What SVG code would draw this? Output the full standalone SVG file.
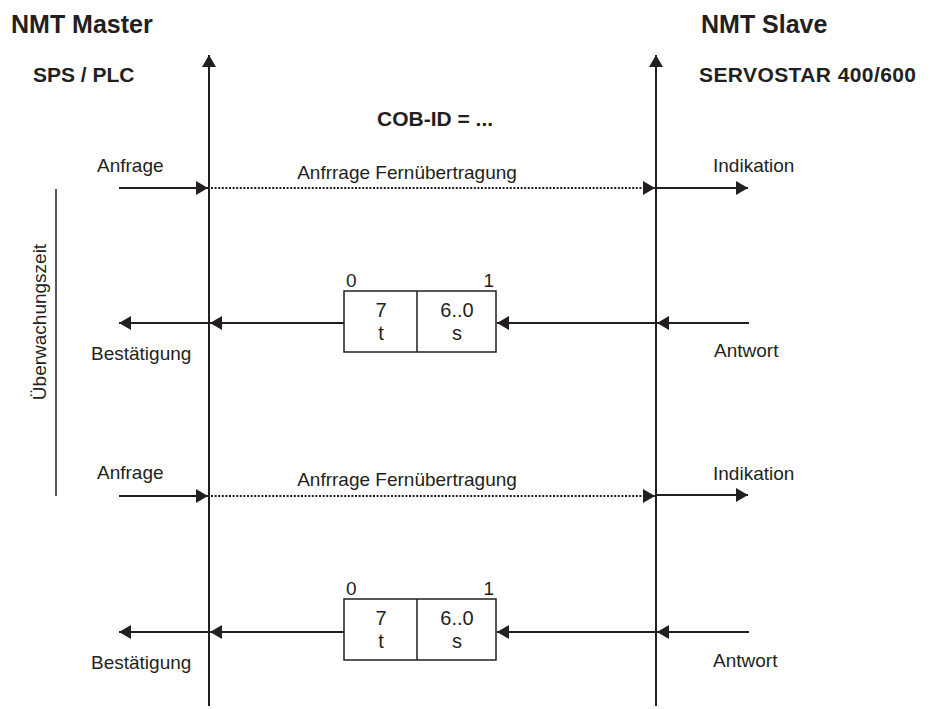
<svg xmlns="http://www.w3.org/2000/svg" width="931" height="709" viewBox="0 0 931 709">
  <style>
    text { font-family: "Liberation Sans", Arial, sans-serif; fill: #231f20; }
    .t { font-size: 19px; }
    .h1 { font-size: 25px; font-weight: bold; }
    .h2 { font-size: 21px; font-weight: bold; }
    .bx { font-size: 20px; text-anchor: middle; }
    .ln { stroke: #231f20; stroke-width: 2; fill: none; }
    .dot { stroke: #231f20; stroke-width: 2; stroke-dasharray: 2 1.6; fill: none; }
    .box { stroke: #231f20; stroke-width: 1.5; fill: #fff; }
  </style>
  <defs>
    <marker id="ah" markerUnits="userSpaceOnUse" markerWidth="14" markerHeight="14" refX="12" refY="7" orient="auto">
      <path d="M0,0 L12,7 L0,14 z" fill="#231f20"/>
    </marker>
  </defs>
  <rect width="931" height="709" fill="#fff"/>

  <g id="master-header">
    <text class="h1" x="11" y="33">NMT Master</text>
    <text class="h2" x="33" y="82">SPS / PLC</text>
  </g>
  <g id="slave-header">
    <text class="h1" x="701" y="33">NMT Slave</text>
    <text class="h2" x="699" y="82" textLength="217" lengthAdjust="spacing">SERVOSTAR 400/600</text>
  </g>
  <g id="cob-id">
    <text class="h2" x="377" y="126">COB-ID = ...</text>
  </g>

  <g id="master-lifeline">
    <line class="ln" x1="209" y1="706" x2="209" y2="55" marker-end="url(#ah)"/>
  </g>
  <g id="slave-lifeline">
    <line class="ln" x1="656" y1="706" x2="656" y2="55" marker-end="url(#ah)"/>
  </g>

  <g id="watchdog">
    <line stroke="#231f20" stroke-width="1.5" x1="56" y1="189" x2="56" y2="496"/>
    <text class="t" transform="translate(46,322) rotate(-90)" text-anchor="middle">Überwachungszeit</text>
  </g>

  <g id="frame1">
    <rect class="box" x="344" y="291" width="152" height="61"/>
    <line stroke="#231f20" stroke-width="1.5" x1="417" y1="291" x2="417" y2="352"/>
    <text class="t" x="346" y="287">0</text>
    <text class="t" x="494" y="287" text-anchor="end">1</text>
    <text class="bx" x="381" y="317">7</text>
    <text class="bx" x="381" y="340">t</text>
    <text class="bx" x="457" y="317">6..0</text>
    <text class="bx" x="457" y="340">s</text>
  </g>
  <g id="frame2">
    <rect class="box" x="344" y="599" width="152" height="61"/>
    <line stroke="#231f20" stroke-width="1.5" x1="417" y1="599" x2="417" y2="660"/>
    <text class="t" x="346" y="595">0</text>
    <text class="t" x="494" y="595" text-anchor="end">1</text>
    <text class="bx" x="381" y="625">7</text>
    <text class="bx" x="381" y="648">t</text>
    <text class="bx" x="457" y="625">6..0</text>
    <text class="bx" x="457" y="648">s</text>
  </g>

  <g id="labels">
    <text class="t" x="97" y="172">Anfrage</text>
    <text class="t" x="407" y="179" text-anchor="middle">Anfrrage Fernübertragung</text>
    <text class="t" x="713" y="172">Indikation</text>
    <text class="t" x="91" y="360">Bestätigung</text>
    <text class="t" x="714" y="357">Antwort</text>
    <text class="t" x="97" y="479">Anfrage</text>
    <text class="t" x="407" y="486" text-anchor="middle">Anfrrage Fernübertragung</text>
    <text class="t" x="713" y="480">Indikation</text>
    <text class="t" x="91" y="669">Bestätigung</text>
    <text class="t" x="713" y="667">Antwort</text>
  </g>

  <g id="connectors">
    <line class="ln" x1="119" y1="188" x2="208" y2="188" marker-end="url(#ah)"/>
    <line class="dot" x1="211" y1="188" x2="655" y2="188" marker-end="url(#ah)"/>
    <line class="ln" x1="657" y1="188" x2="748" y2="188" marker-end="url(#ah)"/>

    <line class="ln" x1="749" y1="323" x2="657" y2="323" marker-end="url(#ah)"/>
    <line class="ln" x1="655" y1="323" x2="497" y2="323" marker-end="url(#ah)"/>
    <line class="ln" x1="344" y1="323" x2="210" y2="323" marker-end="url(#ah)"/>
    <line class="ln" x1="208" y1="323" x2="119" y2="323" marker-end="url(#ah)"/>

    <line class="ln" x1="119" y1="496" x2="208" y2="496" marker-end="url(#ah)"/>
    <line class="dot" x1="211" y1="496" x2="655" y2="496" marker-end="url(#ah)"/>
    <line class="ln" x1="657" y1="495" x2="748" y2="495" marker-end="url(#ah)"/>

    <line class="ln" x1="749" y1="632" x2="657" y2="632" marker-end="url(#ah)"/>
    <line class="ln" x1="655" y1="632" x2="497" y2="632" marker-end="url(#ah)"/>
    <line class="ln" x1="344" y1="632" x2="210" y2="632" marker-end="url(#ah)"/>
    <line class="ln" x1="208" y1="632" x2="119" y2="632" marker-end="url(#ah)"/>
  </g>
</svg>
